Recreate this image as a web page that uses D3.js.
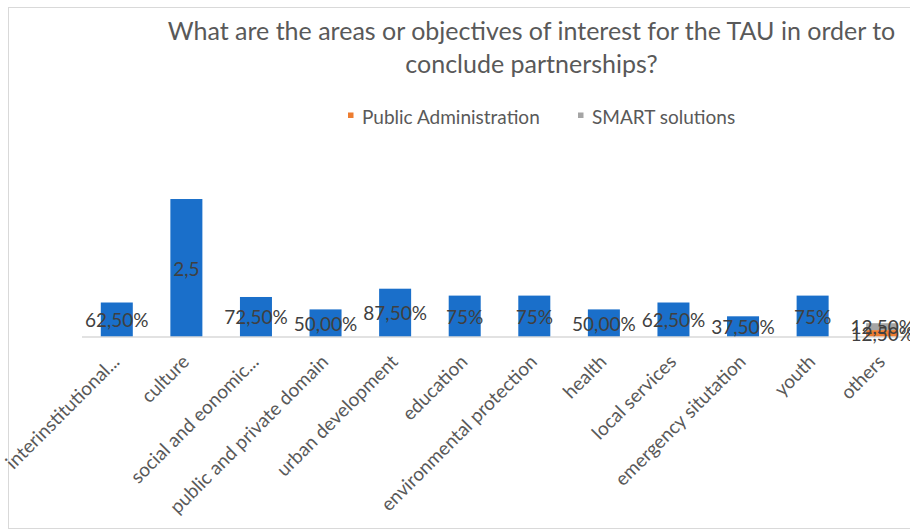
<!DOCTYPE html>
<html>
<head>
<meta charset="utf-8">
<script src="https://cdn.jsdelivr.net/npm/d3@7"></script>
<style>
  html, body { margin: 0; padding: 0; background: #ffffff; }
  svg { display: block; font-family: Lato, "Open Sans", sans-serif; }
</style>
</head>
<body>
<svg id="chart" width="910" height="531"></svg>
<script>
// Areas of interest for partnerships, by category
const categories = [
  "interinstitutional...", "culture", "social and eonomic...", "public and private domain",
  "urban development", "education", "environmental protection", "health",
  "local services", "emergency situtation", "youth", "others"
];
// Main series (no legend entry)
const interestValues = [0.625, 2.5, 0.725, 0.5, 0.875, 0.75, 0.75, 0.5, 0.625, 0.375, 0.75, 0];
// How each main value is written on its bar
const interestLabelFormats = ["pct2", "num", "pct2", "pct2", "pct2", "pct0", "pct0", "pct2", "pct2", "pct2", "pct0", null];
// Legend series
const publicAdminValues = [0, 0, 0, 0, 0, 0, 0, 0, 0, 0, 0, 0.125];
const smartValues       = [0, 0, 0, 0, 0, 0, 0, 0, 0, 0, 0, 0.125];
const legendNames = ["Public Administration", "SMART solutions"];

const titleLines = [
  "What are the areas or objectives of interest for the TAU in order to",
  "conclude partnerships?"
];

const colors = { interest: "#1a6fca", publicAdmin: "#ed7d31", smart: "#a5a5a5" };

function formatValue(v, kind) {
  if (kind === "num") return String(v).replace(".", ",");
  if (kind === "pct0") return Math.round(v * 100) + "%";
  return (v * 100).toFixed(2).replace(".", ",") + "%";
}

const rows = categories.map((c, i) => ({
  category: c,
  interest: interestValues[i],
  publicAdmin: publicAdminValues[i],
  smart: smartValues[i],
  fmt: {
    interest: interestLabelFormats[i],
    publicAdmin: "pct2",
    smart: "pct2"
  }
}));

const keys = ["interest", "publicAdmin", "smart"];
const stacked = d3.stack().keys(keys)(rows);

const svg = d3.select("#chart");

// chart frame
svg.append("rect")
  .attr("x", 8.5).attr("y", 7.5)
  .attr("width", 1000).attr("height", 521)
  .attr("fill", "#ffffff")
  .attr("stroke", "#d9d9d9").attr("stroke-width", 1);

const x = d3.scaleBand()
  .domain(categories)
  .range([82, 917])
  .paddingInner(0.54)
  .paddingOuter(0.27);

const y = d3.scaleLinear()
  .domain([0, 2.6])
  .range([337, 193.5]);

// title
const title = svg.append("text")
  .attr("text-anchor", "middle")
  .attr("fill", "#595959")
  .attr("font-size", 25);
titleLines.forEach((t, i) => {
  title.append("tspan")
    .attr("x", 531.5)
    .attr("y", 40 + i * 33)
    .text(t);
});

// legend
const legendItems = [
  { name: legendNames[0], color: colors.publicAdmin, x: 348 },
  { name: legendNames[1], color: colors.smart, x: 578 }
];
const legend = svg.append("g");
legendItems.forEach(d => {
  legend.append("rect")
    .attr("x", d.x).attr("y", 112.5)
    .attr("width", 5.5).attr("height", 5.5)
    .attr("fill", d.color);
  legend.append("text")
    .attr("x", d.x + 14).attr("y", 116)
    .attr("dominant-baseline", "central")
    .attr("fill", "#595959")
    .attr("font-size", 19)
    .text(d.name);
});

// bars
const layers = svg.append("g");
stacked.forEach(layer => {
  layers.append("g")
    .attr("fill", colors[layer.key])
    .selectAll("rect")
    .data(layer.filter(d => d[1] > d[0]))
    .join("rect")
    .attr("x", d => x(d.data.category))
    .attr("width", x.bandwidth())
    .attr("y", d => y(d[1]))
    .attr("height", d => y(d[0]) - y(d[1]));
});

// category axis
const xAxis = d3.axisBottom(x).tickSize(0).tickPadding(0);
const axisG = svg.append("g")
  .attr("transform", `translate(0, ${y(0)})`)
  .call(xAxis);
axisG.select(".domain")
  .attr("stroke", "#d9d9d9")
  .attr("stroke-width", 1.5)
  .attr("d", `M${x.range()[0]},0H${x.range()[1]}`);
axisG.selectAll(".tick text")
  .attr("fill", "#595959")
  .attr("font-size", 19)
  .attr("font-family", "Lato, 'Open Sans', sans-serif")
  .attr("text-anchor", "end")
  .attr("dy", null)
  .attr("y", 0)
  .attr("transform", "translate(4, 26) rotate(-45)");

// value labels centred in each segment
const labels = svg.append("g")
  .attr("font-size", 19)
  .attr("fill", "#404040")
  .attr("text-anchor", "middle");
stacked.forEach(layer => {
  labels.append("g")
    .selectAll("text")
    .data(layer.filter(d => d[1] > d[0]))
    .join("text")
    .attr("x", d => x(d.data.category) + x.bandwidth() / 2)
    .attr("y", d => (y(d[0]) + y(d[1])) / 2)
    .attr("dominant-baseline", "central")
    .text(d => formatValue(d[1] - d[0], d.data.fmt[layer.key]));
});
</script>
</body>
</html>
